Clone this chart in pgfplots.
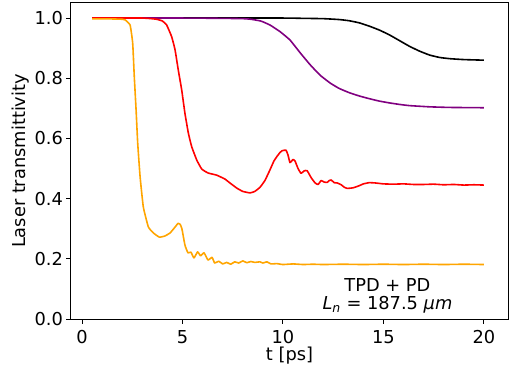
\documentclass[border=0pt]{standalone}
\usepackage{fontspec}
\setmainfont{DejaVu Sans}
\usepackage{pgfplots}
\pgfplotsset{compat=1.18}
\definecolor{mplpurple}{HTML}{800080}
\definecolor{mplorange}{HTML}{FFA500}
\begin{document}
\fontsize{17.8bp}{21bp}\selectfont
\begin{tikzpicture}
\begin{axis}[
  at={(0,0)}, anchor=south west,
  scale only axis, width=437bp, height=316bp,
  xmin=-0.55, xmax=21.2, ymin=0, ymax=1.05,
  xtick={0,5,10,15,20}, ytick={0,0.2,0.4,0.6,0.8,1.0},
  yticklabel style={/pgf/number format/fixed, /pgf/number format/fixed zerofill, /pgf/number format/precision=1},
  /pgf/number format/assume math mode=true,
  tick align=outside, xtick pos=left, ytick pos=left,
  major tick length=4.9bp,
  every tick/.style={black, line width=1bp},
  axis line style={line width=1bp},
  xticklabel style={anchor=north, inner sep=0pt, yshift=-6bp},
  yticklabel style={anchor=east, inner sep=0pt, xshift=-3bp},
  xlabel={t [ps]}, ylabel={Laser transmittivity},
  xlabel style={at={(axis description cs:0.5,-0.116)}, anchor=center},
  ylabel style={at={(axis description cs:-0.1144,0.5)}, anchor=center, rotate=0},
  every axis plot/.append style={line width=1.6bp, line join=round, smooth, tension=0.25},
]
\addplot[black] coordinates {(0.5,1.0)(5,1.0)(10,1.0)(11,0.999)(12,0.998)(12.8,0.995)(13.3,0.991)(13.8,0.984)(14.3,0.973)(14.8,0.96)(15.3,0.944)(15.8,0.925)(16.3,0.906)(16.8,0.89)(17.3,0.877)(17.8,0.869)(18.3,0.865)(19,0.862)(20,0.86)};
\addplot[mplpurple] coordinates {(0.5,1.0)(5,1.0)(7,0.999)(8,0.998)(8.4,0.996)(8.9,0.99)(9.35,0.977)(9.85,0.955)(10.35,0.927)(10.85,0.885)(11.35,0.845)(11.85,0.81)(12.35,0.784)(12.8,0.766)(13.3,0.752)(13.8,0.741)(14.3,0.732)(14.8,0.724)(15.3,0.718)(15.8,0.713)(16.3,0.709)(17.3,0.705)(18.3,0.703)(20,0.702)};
\addplot[red] coordinates {(0.5,1.0)(3,1.0)(3.71,0.996)(4.0,0.99)(4.21,0.977)(4.46,0.938)(4.63,0.894)(4.79,0.827)(4.96,0.761)(5.12,0.684)(5.29,0.618)(5.46,0.572)(5.71,0.528)(5.96,0.498)(6.28,0.485)(6.7,0.478)(7.11,0.465)(7.36,0.452)(7.7,0.435)(8.0,0.424)(8.36,0.419)(8.6,0.424)(8.86,0.438)(9.1,0.46)(9.35,0.495)(9.55,0.525)(9.7,0.54)(9.85,0.553)(9.95,0.559)(10.15,0.561)(10.25,0.545)(10.35,0.52)(10.5,0.53)(10.6,0.525)(10.75,0.5)(10.9,0.484)(11.05,0.492)(11.2,0.493)(11.4,0.47)(11.6,0.452)(11.75,0.447)(11.9,0.46)(12.05,0.455)(12.2,0.454)(12.3,0.46)(12.4,0.462)(12.55,0.453)(12.7,0.452)(12.9,0.446)(13.05,0.438)(13.2,0.434)(13.5,0.436)(13.8,0.443)(14.0,0.449)(14.3,0.453)(14.6,0.452)(15,0.449)(15.5,0.448)(16,0.449)(16.5,0.447)(17,0.447)(17.5,0.448)(18,0.446)(18.5,0.447)(19,0.445)(19.5,0.446)(20,0.445)};
\addplot[mplorange] coordinates {(0.5,0.997)(1.5,0.997)(2.0,0.996)(2.14,0.994)(2.39,0.977)(2.52,0.917)(2.6,0.805)(2.69,0.694)(2.77,0.584)(2.89,0.472)(3.05,0.372)(3.3,0.306)(3.55,0.286)(3.85,0.272)(4.13,0.276)(4.38,0.286)(4.6,0.303)(4.78,0.318)(4.88,0.315)(4.97,0.30)(5.12,0.246)(5.27,0.22)(5.42,0.222)(5.57,0.203)(5.75,0.223)(5.9,0.21)(6.07,0.22)(6.27,0.196)(6.47,0.205)(6.6,0.186)(6.8,0.192)(7.0,0.183)(7.2,0.188)(7.4,0.182)(7.6,0.19)(7.8,0.186)(8.0,0.193)(8.2,0.187)(8.4,0.191)(8.6,0.188)(8.85,0.19)(9.0,0.186)(9.2,0.19)(9.4,0.183)(9.7,0.184)(10,0.181)(10.5,0.183)(11,0.181)(11.5,0.182)(12,0.181)(13,0.182)(14,0.181)(15,0.182)(16,0.181)(17,0.182)(18,0.181)(19,0.182)(20,0.181)};
\node[anchor=base, inner sep=0pt] at (axis cs:15.2,0.09) {TPD + PD};
\node[anchor=base, inner sep=0pt] at (axis cs:15.2,0.03) {\textit{L}\textsubscript{\textit{n}} = 187.5 \textit{μm}};
\end{axis}
\path (-71bp,-57bp) rectangle (445bp,319bp);
\end{tikzpicture}
\end{document}
